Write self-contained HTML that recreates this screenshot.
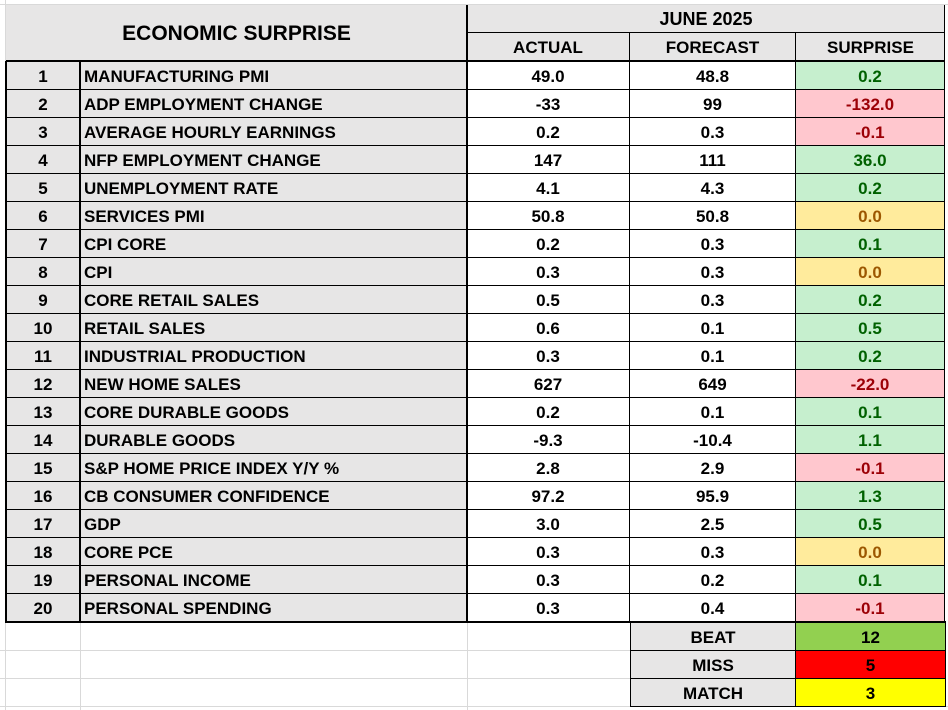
<!DOCTYPE html>
<html><head><meta charset="utf-8">
<style>
html,body{margin:0;padding:0;background:#fff;}
body{width:948px;height:710px;position:relative;overflow:hidden;font-family:"Liberation Sans",Arial,sans-serif;font-weight:bold;color:#000;}
.c{position:absolute;box-sizing:border-box;display:flex;align-items:center;justify-content:center;font-size:17px;white-space:nowrap;padding-top:2px;}
.l{justify-content:flex-start;padding-left:4px;}
.g{background:#e7e6e6;}
.gl{position:absolute;background:#d9d9d9;}
</style></head>
<body>
<div class="gl" style="left:0;top:4px;width:948px;height:1px"></div>
<div class="gl" style="left:5px;top:0;width:1px;height:710px"></div>
<div class="gl" style="left:0;top:650px;width:630px;height:1px"></div>
<div class="gl" style="left:0;top:678px;width:630px;height:1px"></div>
<div class="gl" style="left:0;top:706px;width:948px;height:1px"></div>
<div class="gl" style="left:80px;top:622px;width:1px;height:88px"></div>
<div class="gl" style="left:467px;top:622px;width:1px;height:88px"></div>

<div class="c g" style="left:6px;top:5px;width:461px;height:56px;font-size:21px;padding-top:2px">ECONOMIC SURPRISE</div>
<div class="c g" style="left:467px;top:5px;width:478px;height:28px;border-bottom:1px solid #000;font-size:18px">JUNE 2025</div>
<div class="c g" style="left:467px;top:33px;width:163px;height:28px;border-right:1px solid #000">ACTUAL</div>
<div class="c g" style="left:630px;top:33px;width:166px;height:28px;border-right:1px solid #000">FORECAST</div>
<div class="c g" style="left:796px;top:33px;width:149px;height:28px">SURPRISE</div>
<div id="rows"></div>
<div style="position:absolute;left:466px;top:5px;width:2px;height:617px;background:#000"></div>
<div style="position:absolute;left:6px;top:60px;width:939px;height:2px;background:#000"></div>
<div style="position:absolute;left:5px;top:61px;width:2px;height:561px;background:#000"></div>
<div style="position:absolute;left:79px;top:61px;width:2px;height:561px;background:#000"></div>
<div style="position:absolute;left:5px;top:621px;width:941px;height:2px;background:#000"></div>
<div style="position:absolute;left:944px;top:5px;width:1px;height:617px;background:#000"></div>
<script>
const names=["MANUFACTURING PMI","ADP EMPLOYMENT CHANGE","AVERAGE HOURLY EARNINGS","NFP EMPLOYMENT CHANGE","UNEMPLOYMENT RATE","SERVICES PMI","CPI CORE","CPI","CORE RETAIL SALES","RETAIL SALES","INDUSTRIAL PRODUCTION","NEW HOME SALES","CORE DURABLE GOODS","DURABLE GOODS","S&P HOME PRICE INDEX Y/Y %","CB CONSUMER CONFIDENCE","GDP","CORE PCE","PERSONAL INCOME","PERSONAL SPENDING"];
const actual=["49.0","-33","0.2","147","4.1","50.8","0.2","0.3","0.5","0.6","0.3","627","0.2","-9.3","2.8","97.2","3.0","0.3","0.3","0.3"];
const forecast=["48.8","99","0.3","111","4.3","50.8","0.3","0.3","0.3","0.1","0.1","649","0.1","-10.4","2.9","95.9","2.5","0.3","0.2","0.4"];
const surprise=["0.2","-132.0","-0.1","36.0","0.2","0.0","0.1","0.0","0.2","0.5","0.2","-22.0","0.1","1.1","-0.1","1.3","0.5","0.0","0.1","-0.1"];
const summaryLabels=["BEAT","MISS","MATCH"];
const summaryValues=["12","5","3"];
const root=document.getElementById('rows');
function cell(x,y,w,h,txt,cls,style){const d=document.createElement('div');d.className='c '+(cls||'');d.style.cssText=`left:${x}px;top:${y}px;width:${w}px;height:${h}px;`+(style||'');d.textContent=txt;root.appendChild(d);return d;}
const H=28,top0=62;
names.forEach((n,i)=>{
  const y=top0+i*H;const bb='border-bottom:1px solid #000;';
  let d=cell(6,y,74,H,String(i+1),'g',bb);
  
  
  d=cell(80,y,387,H,n,'g l',bb);
  
  
  d=cell(467,y,163,H,actual[i],'',bb+'border-right:1px solid #000;');
  
  
  d=cell(630,y,166,H,forecast[i],'',bb+'border-right:1px solid #000;');
  
  
  const v=parseFloat(surprise[i]);
  const st=v>0?'background:#c6efce;color:#006100;':v<0?'background:#ffc7ce;color:#9c0006;':'background:#ffeb9c;color:#9c5700;';
  d=cell(796,y,148,H,surprise[i],'',bb+st);
  
  
});
const sumCols=['#92d050','#ff0000','#ffff00'];
summaryLabels.forEach((s,i)=>{
  const y=622+i*H;
  let d=cell(630,y,166,H+1,s,'g','border:1px solid #000;');
  
  
  d=cell(795,y,151,H+1,summaryValues[i],'','border:1px solid #000;background:'+sumCols[i]+';');
  
  
});
</script>
</body></html>
